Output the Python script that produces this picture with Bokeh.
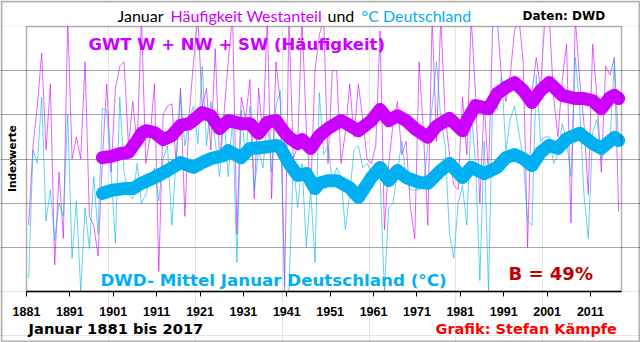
import numpy as np
from bokeh.plotting import figure
from bokeh.models import Range1d, FixedTicker, Grid, Label, BoxAnnotation, ColumnDataSource, LinearAxis
from bokeh.embed import file_html
from bokeh.resources import INLINE

# ---------------- data ----------------
years = list(range(1881, 2018))

westanteil = [
    1.5, 3.3, 4.2, 5.4, 3.2, 4.7, 0.6, 2.7, 1.2, 6.2, 3.0, 3.5, 3.0, 5.2, 1.7, 1.5, 0.8, 3.0, 4.7, 2.7, 4.6, 5.1,
    5.2, 3.3, 4.3, 3.3, 6.2, 2.9, 3.5, 4.7, 0.45, 4.0, 4.2, 4.25, 2.9, 4.6, 1.7, 4.0, 5.2, 6.2, 4.2, 4.6, 3.2, 5.5, 3.0,
    4.0, 5.2, 6.3, 1.3, 4.4, 3.9, 4.8, 2.1, 4.6, 3.5, 6.2, 2.1, 5.2, 4.3, 0.1, 6.2, 3.0, 3.3, 6.2, 3.7, 2.2, 5.0, 5.8,
    6.2, 2.9, 5.0, 5.0, 2.9, 3.6, 4.7, 3.5, 4.7, 3.9, 3.0, 2.9, 3.3, 5.9, 1.4, 2.9, 3.8, 4.3, 3.1, 3.4, 1.9, 1.2,
    5.2, 3.6, 1.5, 6.2, 3.4, 6.2, 4.0, 3.1, 2.4, 2.3, 4.4, 3.1, 6.2, 4.5, 2.0, 4.3, 2.6, 6.2, 6.2, 4.8, 4.3, 4.9, 5.9,
    6.2, 5.2, 1.0, 4.5, 5.3, 4.6, 6.2, 6.2, 4.4, 3.5, 4.8, 5.6, 1.55, 6.2, 4.8, 3.8, 2.2, 5.6, 4.4, 2.7, 5.1, 4.9, 5.3, 1.8,
]

temperatur = [
    0.3, 3.2, 2.9, 4.4, 1.6, 2.3, 1.15, 2.0, 1.7, 4.0, 0.75, 2.05, 0.0, 1.9, 0.97, 2.6, 1.3, 4.15, 4.1, 2.7, 1.1, 4.4,
    2.7, 2.2, 2.1, 2.9, 2.0, 2.2, 2.6, 2.8, 2.05, 3.0, 3.3, 1.5, 3.0, 4.5, 3.3, 3.9, 4.2, 3.35, 5.1, 3.3, 4.3, 3.4, 2.6,
    4.0, 2.6, 3.9, 0.66, 4.1, 3.0, 4.2, 2.3, 3.2, 2.8, 3.9, 2.7, 4.2, 4.55, 0.0, 0.0, 2.95, 1.9, 2.9, 1.0, 2.3, 0.66, 4.5,
    3.1, 3.3, 2.5, 2.8, 2.6, 1.4, 2.2, 3.2, 3.3, 2.8, 2.9, 2.7, 2.5, 2.6, 0.0, 1.9, 2.0, 2.7, 3.4, 2.6, 2.3, 2.3,
    2.3, 2.4, 3.3, 4.2, 5.2, 3.9, 3.3, 1.3, 0.75, 2.0, 2.4, 1.5, 4.1, 2.9, 0.25, 3.4, 0.0, 4.6, 4.1, 4.9, 3.2, 3.9, 4.2,
    3.6, 3.0, 1.6, 1.5, 4.9, 3.4, 3.5, 3.5, 2.9, 3.1, 3.8, 3.4, 2.6, 5.3, 4.2, 2.2, 1.2, 3.6, 3.9, 3.0, 3.2, 3.4, 5.2, 3.4,
]

smooth_w_years = [1898, 1900, 1902, 1904, 1906, 1907, 1908, 1910, 1912, 1914, 1916, 1918, 1920, 1921, 1923, 1925,
                  1927, 1930, 1932, 1934, 1936, 1938, 1940, 1941, 1943, 1944, 1946, 1948, 1950, 1953, 1955, 1957,
                  1960, 1962, 1964, 1966, 1968, 1970, 1973, 1975, 1978, 1981, 1982, 1984, 1987, 1989, 1991, 1993,
                  1995, 1997, 1999, 2001, 2004, 2007, 2009, 2011, 2013, 2015, 2016, 2017]
smooth_w = [3.03, 3.06, 3.12, 3.15, 3.42, 3.58, 3.64, 3.60, 3.44, 3.53, 3.76, 3.80, 3.96, 4.05, 3.98, 3.69,
            3.87, 3.80, 3.80, 3.58, 3.83, 3.87, 3.60, 3.49, 3.35, 3.44, 3.24, 3.53, 3.69, 3.87, 3.76, 3.64,
            3.87, 4.12, 3.87, 3.98, 3.87, 3.69, 3.49, 3.74, 3.92, 3.64, 3.87, 4.21, 4.14, 4.48, 4.62, 4.73,
            4.55, 4.28, 4.55, 4.73, 4.44, 4.37, 4.37, 4.32, 4.14, 4.39, 4.44, 4.37]

smooth_t_years = [1898, 1900, 1903, 1905, 1907, 1910, 1913, 1916, 1919, 1921, 1923, 1926, 1927, 1930, 1932, 1935,
                  1938, 1939, 1941, 1943, 1945, 1947, 1948, 1950, 1952, 1955, 1957, 1960, 1962, 1964, 1966, 1968,
                  1971, 1973, 1976, 1978, 1981, 1983, 1986, 1989, 1991, 1993, 1995, 1997, 1999, 2001, 2003, 2005,
                  2008, 2011, 2013, 2016, 2017]
smooth_t = [2.22, 2.29, 2.33, 2.33, 2.45, 2.58, 2.74, 2.92, 2.81, 2.92, 3.01, 3.08, 3.19, 3.03, 3.24, 3.26,
            3.31, 3.26, 2.90, 2.63, 2.67, 2.33, 2.45, 2.51, 2.51, 2.35, 2.13, 2.58, 2.81, 2.51, 2.74, 2.58,
            2.47, 2.45, 2.74, 2.90, 2.58, 2.81, 2.67, 2.81, 3.03, 3.10, 3.01, 2.85, 3.15, 3.31, 3.24, 3.46,
            3.58, 3.35, 3.24, 3.49, 3.42]

tick_years = list(range(1881, 2012, 10))
grid_values = [1, 2, 3, 4, 5]

# ---------------- layout helpers ----------------
MAG = "#CC00FF"
CYA = "#00B0F0"
X0, X1 = 1881, 2018.15          # plot area (years)
Y0, Y1 = 0, 6                    # plot area (index units)
PX_L, PX_R, PX_T, PX_B = 26, 621, 26, 291
PX_PER_YEAR = (PX_R - PX_L) / (X1 - X0)
PX_PER_UNIT = (PX_B - PX_T) / (Y1 - Y0)


def cx(px):
    return X0 + (px - PX_L) / PX_PER_YEAR


def cy(py):
    return Y0 + (PX_B - py) / PX_PER_UNIT


p = figure(width=640, height=342, x_range=Range1d(cx(0), cx(640)), y_range=Range1d(cy(342), cy(0)),
           output_backend="svg", toolbar_location=None, x_axis_location=None, y_axis_location=None,
           min_border=0)
p.background_fill_color = "white"
p.border_fill_color = "white"
p.outline_line_color = None

p.add_layout(Grid(dimension=1, ticker=FixedTicker(ticks=grid_values), bounds=(X0, X1),
                  grid_line_color="#A6A6A6", grid_line_width=1))

xa = LinearAxis(fixed_location=Y0, bounds=(X0, X1), ticker=FixedTicker(ticks=tick_years))
xa.major_label_text_font = "Liberation Sans"
xa.major_label_text_font_style = "bold"
xa.major_label_text_font_size = "12.5px"
xa.major_label_text_color = "black"
xa.major_tick_in = 0
xa.major_tick_out = 5
xa.minor_tick_out = 0
xa.minor_tick_in = 0
xa.axis_line_color = "black"
xa.axis_line_width = 1.5
xa.major_tick_line_color = "black"
xa.major_label_standoff = 10
p.add_layout(xa, "below")

xs = np.array(years) + 0.5
src = ColumnDataSource(dict(x=xs, w=westanteil, t=temperatur))
p.line("x", "w", source=src, line_color=MAG, line_width=1, line_alpha=0.6)
p.line("x", "t", source=src, line_color=CYA, line_width=1, line_alpha=0.6)
p.line(np.array(smooth_w_years) + 0.5, smooth_w, line_color=MAG, line_width=13,
       line_join="round", line_cap="round")
p.line(np.array(smooth_t_years) + 0.5, smooth_t, line_color=CYA, line_width=13,
       line_join="round", line_cap="round")

# white mask above the plot area (hides thin-line peaks that leave the chart)
p.add_layout(BoxAnnotation(left=cx(0), right=cx(640), bottom=Y1, top=cy(0),
                           fill_color="white", fill_alpha=1, line_alpha=0))
# plot area frame
p.add_layout(BoxAnnotation(left=X0, right=X1, bottom=Y0, top=Y1,
                           fill_alpha=0, line_color="black", line_width=1.5))
# outer frame
p.add_layout(BoxAnnotation(left=cx(1), right=cx(639), top=cy(1), bottom=cy(341),
                           fill_alpha=0, line_color="black", line_width=2))


def lab(text, px, py, color="black", font="DejaVu Sans", size="12px", style="bold",
        align="left", angle=0.0):
    p.add_layout(Label(x=cx(px), y=cy(py), text=text, text_color=color, text_font=font,
                       text_font_size=size, text_font_style=style, text_align=align,
                       text_baseline="middle", angle=angle))


# title pieces
lab("Januar", 117, 14.5, "black", "Lato", "16px", "normal")
lab("Häufigkeit Westanteil", 170, 14.5, MAG, "Lato", "16px", "normal")
lab("und", 327, 14.5, "black", "Lato", "16px", "normal")
lab("°C Deutschland", 361, 14.5, CYA, "Lato", "16px", "normal")
lab("Daten: DWD", 522, 15, "black", "DejaVu Sans", "12px")

lab("GWT W + NW + SW (Häufigkeit)", 88, 43.5, MAG, "DejaVu Sans", "16.5px")
lab("DWD- Mittel Januar Deutschland (°C)", 100, 279, CYA, "DejaVu Sans", "16.7px")
lab("B = 49%", 508, 273, "#C00000", "DejaVu Sans", "18px")

lab("Indexwerte", 11.5, 158, "black", "DejaVu Sans", "10.5px", "bold", "center", np.pi / 2)
lab("Januar 1881 bis 2017", 28, 328, "black", "DejaVu Sans", "14.7px")
lab("Grafik: Stefan Kämpfe", 435, 328, "#FF0000", "DejaVu Sans", "14.5px")

open("out.html", "w").write(file_html(p, INLINE))
